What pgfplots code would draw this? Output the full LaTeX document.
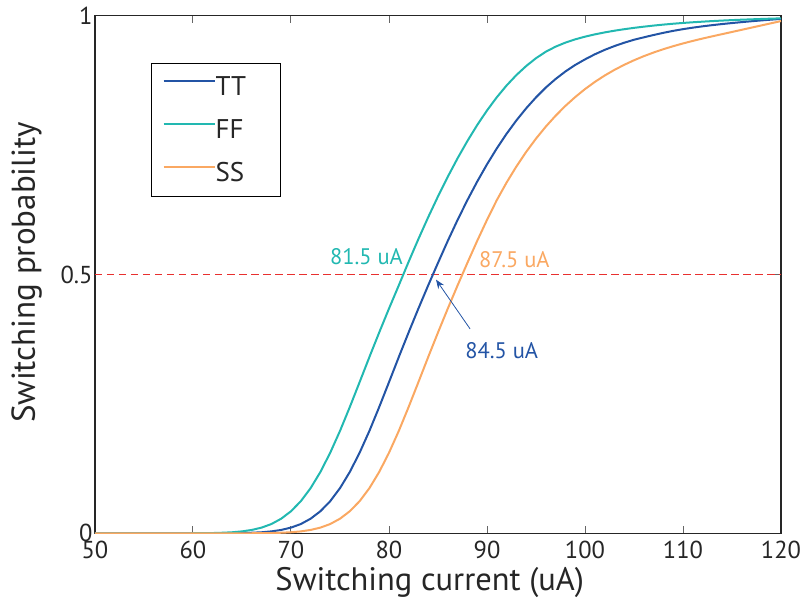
\documentclass[border=0pt]{standalone}
\usepackage{pgfplots}
\pgfplotsset{compat=1.18}
\usepackage{fontspec}
\setmainfont{PT Sans}
\usetikzlibrary{arrows.meta}
\definecolor{ttc}{RGB}{35,84,165}
\definecolor{ffc}{RGB}{34,184,177}
\definecolor{ssc}{RGB}{250,168,98}
\definecolor{redc}{RGB}{232,48,47}
\begin{document}
\begin{tikzpicture}
\useasboundingbox (-95pt,-64.7pt) rectangle (706pt,533.3pt);
\begin{axis}[
  scale only axis, width=686pt, height=517.6pt,
  at={(0,0)}, anchor=south west,
  xmin=50, xmax=120, ymin=0, ymax=1,
  xtick={50,60,...,120}, ytick={0,0.5,1},
  yticklabels={0,0.5,1},
  /pgf/number format/assume math mode=true,
  tick label style={font=\fontsize{24.5}{24.5}\selectfont, text=black!85},
  xticklabel style={yshift=-4pt},
  yticklabel style={xshift=1pt},
  major tick length=7pt,
  major tick style={black!60, line width=1pt},
  axis line style={line width=1.3pt, black!85},
  xlabel={Switching current (uA)},
  ylabel={Switching probability},
  xlabel style={font=\fontsize{32.5}{32.5}\selectfont, text=black!85,
    at={(axis description cs:0.488,-0.124)}, anchor=south, inner sep=0pt},
  ylabel style={font=\fontsize{33}{33}\selectfont, text=black!85,
    at={(axis description cs:-0.0773,0.504)}, anchor=south, inner sep=0pt},
  legend style={at={(rel axis cs:0.0816,0.9086)}, anchor=north west,
    draw=black, line width=1.2pt, font=\fontsize{27}{27}\selectfont,
    inner xsep=11pt, inner ysep=13pt, row sep=22.5pt, text=black!85,
    nodes={inner sep=0pt}},
  legend cell align=left,
  every even column/.append style={column sep=5pt},
  legend image code/.code={\draw[#1, line width=2pt] (0pt,6pt) -- (51pt,6pt);},
]
\addplot[redc, line width=1.9pt, dash pattern=on 7.5pt off 4.5pt, forget plot] coordinates {(50,0.5) (120,0.5)};
\addplot[ttc, line width=2pt] coordinates {
(50,0) (60,0) (62,0.0001) (63,0.0001) (64,0.0003) (65,0.0005) (66,0.0011) (67,0.002)
(68,0.0037) (69,0.0065) (70,0.011) (71,0.0179) (72,0.0282) (73,0.0426) (74,0.062)
(75,0.0872) (76,0.1185) (77,0.1556) (78,0.1978) (79,0.2439) (80,0.292) (81,0.3405)
(82,0.388) (83,0.4342) (84,0.479) (85,0.5225) (86,0.565) (87,0.6055) (88,0.6437)
(89,0.6795) (90,0.7128) (91,0.7436) (92,0.7719) (93,0.7977) (94,0.8211) (95,0.8422)
(96,0.8612) (97,0.8777) (98,0.8922) (99,0.9048) (100,0.9156) (101,0.9254) (102,0.9339)
(103,0.9413) (104,0.9478) (105,0.9535) (106,0.9582) (107,0.9627) (108,0.9669)
(109,0.9707) (110,0.974) (111,0.9769) (112,0.9795) (113,0.9818) (114,0.9839)
(115,0.9858) (116,0.9876) (117,0.9893) (118,0.9909) (119,0.9924) (120,0.9938)};
\addlegendentry{\makebox[54pt][l]{TT}}
\addplot[ffc, line width=2pt] coordinates {
(50,0) (57,0) (59,0.0001) (60,0.0001) (61,0.0003) (62,0.0005) (63,0.0011) (64,0.002)
(65,0.0037) (66,0.0065) (67,0.011) (68,0.0179) (69,0.0282) (70,0.0426) (71,0.062)
(72,0.0872) (73,0.1185) (74,0.1556) (75,0.1978) (76,0.2439) (77,0.292) (78,0.3405)
(79,0.388) (80,0.4342) (81,0.479) (82,0.5245) (83,0.5685) (84,0.6107) (85,0.6509)
(86,0.6889) (87,0.7246) (88,0.7579) (89,0.7887) (90,0.8169) (91,0.8424) (92,0.8652)
(93,0.8853) (94,0.9028) (95,0.9179) (96,0.9304) (97,0.9402) (98,0.948) (99,0.9543)
(100,0.9595) (101,0.9639) (102,0.9677) (103,0.971) (104,0.9739) (105,0.9765)
(106,0.9788) (107,0.9809) (108,0.9828) (109,0.9845) (110,0.986) (111,0.9873)
(112,0.9885) (113,0.9896) (114,0.9906) (115,0.9915) (116,0.9923) (117,0.993)
(118,0.9937) (119,0.9943) (120,0.9949)};
\addlegendentry{\makebox[54pt][l]{FF}}
\addplot[ssc, line width=2pt] coordinates {
(50,0) (63,0) (65,0.0001) (66,0.0001) (67,0.0003) (68,0.0005) (69,0.0011) (70,0.002)
(71,0.0037) (72,0.0065) (73,0.011) (74,0.0179) (75,0.0282) (76,0.0426) (77,0.062)
(78,0.0872) (79,0.1185) (80,0.1556) (81,0.1978) (82,0.2439) (83,0.292) (84,0.3405)
(85,0.388) (86,0.4342) (87,0.479) (88,0.5225) (89,0.565) (90,0.6055) (91,0.6437)
(92,0.6777) (93,0.7087) (94,0.7369) (95,0.7625) (96,0.7857) (97,0.8067) (98,0.8257)
(99,0.8428) (100,0.8582) (101,0.872) (102,0.8843) (103,0.8953) (104,0.9051)
(105,0.9139) (106,0.9218) (107,0.9289) (108,0.9353) (109,0.9411) (110,0.9464)
(111,0.9513) (112,0.9559) (113,0.9602) (114,0.9644) (115,0.9686) (116,0.9728)
(117,0.977) (118,0.9812) (119,0.9854) (120,0.9896)};
\addlegendentry{\makebox[54pt][l]{SS}}
\node[text=ffc, font=\fontsize{22.5}{22.5}\selectfont] at (axis cs:77.7,0.534) {81.5 uA};
\node[text=ssc, font=\fontsize{22.5}{22.5}\selectfont] at (axis cs:92.8,0.528) {87.5 uA};
\node[text=ttc, font=\fontsize{22.5}{22.5}\selectfont] at (axis cs:91.5,0.352) {84.5 uA};
\draw[ttc, line width=0.8pt, -{Stealth[length=9pt,width=7pt]}] (axis cs:88.27,0.395) -- (axis cs:84.8,0.49);
\end{axis}
\end{tikzpicture}
\end{document}
